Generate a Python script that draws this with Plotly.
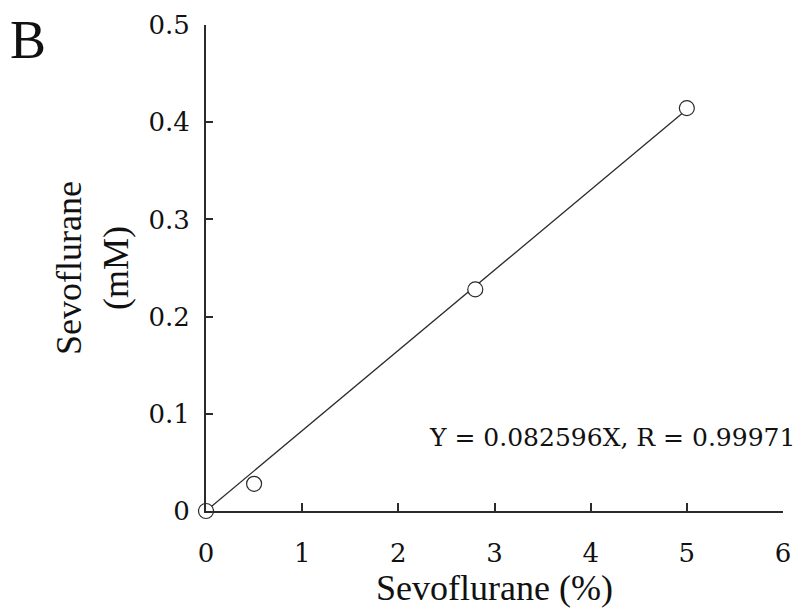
import plotly.graph_objects as go

conc_pct = [0, 0.5, 2.8, 5.0]
conc_mM = [0.0, 0.028, 0.228, 0.4145]
slope = 0.082596
fit_x = [0, 5]
fit_y = [slope * v for v in fit_x]
x_ticks = [0, 1, 2, 3, 4, 5, 6]
y_ticks = [0, 0.1, 0.2, 0.3, 0.4, 0.5]
y_tick_text = ["0", "0.1", "0.2", "0.3", "0.4", "0.5"]

TICK_FONT = "DejaVu Serif"
TITLE_FONT = "Liberation Serif"
INK = "#2b2b2b"

fig = go.Figure()
fig.add_trace(go.Scatter(x=fit_x, y=fit_y, mode="lines",
                         line=dict(color=INK, width=1.3), showlegend=False,
                         cliponaxis=False))
fig.add_trace(go.Scatter(x=conc_pct, y=conc_mM, mode="markers",
                         marker=dict(symbol="circle", size=15, color="white",
                                     line=dict(color=INK, width=1.2)),
                         showlegend=False, cliponaxis=False))

fig.update_layout(
    width=801, height=610,
    margin=dict(l=206, r=10, t=20, b=99),
    plot_bgcolor="white", paper_bgcolor="white",
    font=dict(family=TICK_FONT, size=26, color="#111"),
    xaxis=dict(range=[0, 6], tickvals=x_ticks, showline=True, linecolor=INK,
               linewidth=2, ticks="inside", ticklen=8, tickcolor=INK,
               tickwidth=1.5, showgrid=False, zeroline=False,
               tickfont=dict(size=26, family=TICK_FONT), ticklabelstandoff=18,
               title=dict(text="Sevoflurane (%)",
                          font=dict(size=36, family=TITLE_FONT), standoff=2)),
    yaxis=dict(range=[0, 0.5], tickvals=y_ticks, ticktext=y_tick_text,
               showline=True, linecolor=INK, linewidth=2, ticks="inside",
               ticklen=7, tickcolor=INK, tickwidth=1.5, showgrid=False,
               zeroline=False, tickfont=dict(size=26, family=TICK_FONT),
               ticklabelstandoff=9,
               title=dict(text="Sevoflurane<br>(mM)",
                          font=dict(size=36, family=TITLE_FONT), standoff=9)),
    annotations=[
        dict(text="Y = 0.082596X, R = 0.99971", xref="paper", yref="paper",
             x=1.0, y=0.152, xanchor="right", yanchor="middle", showarrow=False,
             xshift=14, font=dict(size=25, family=TICK_FONT, color="#111")),
        dict(text="B", xref="paper", yref="paper", x=-0.343, y=1.035,
             xanchor="left", yanchor="top", showarrow=False,
             font=dict(size=54, family=TITLE_FONT, color="#111")),
    ],
)

fig.write_html("out.html")
